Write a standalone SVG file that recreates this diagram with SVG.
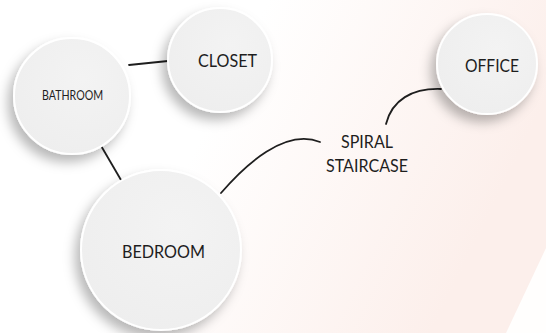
<svg xmlns="http://www.w3.org/2000/svg" width="546" height="333" viewBox="0 0 546 333">
<defs>
<linearGradient id="bg" x1="0" y1="0" x2="1" y2="0.3">
<stop offset="0" stop-color="#ffffff"/>
<stop offset="0.45" stop-color="#ffffff"/>
<stop offset="1" stop-color="#fcefeb"/>
</linearGradient>
<radialGradient id="disc" cx="0.6" cy="0.35" r="0.7">
<stop offset="0" stop-color="#f3f3f3"/>
<stop offset="1" stop-color="#eeeeee"/>
</radialGradient>
<filter id="sh" x="-40%" y="-40%" width="180%" height="180%">
<feDropShadow dx="-5" dy="7" stdDeviation="6" flood-color="#000" flood-opacity="0.28"/>
</filter>
</defs>
<style>
.node circle{fill:url(#disc);stroke:#ffffff;stroke-width:2;filter:url(#sh)}
.lbl{font-family:Lato,"Open Sans","Liberation Sans",sans-serif;fill:#1e1e1e;text-anchor:middle}
.conn path{fill:none;stroke:#1e1e1e;stroke-width:1.8;stroke-linecap:round}
</style>
<rect width="546" height="333" fill="url(#bg)"/>
<polygon points="546,248 546,333 506,333" fill="#ffffff" opacity="0.9"/>
<g class="conn" id="connectors">
<path d="M129,65 L168,61"/>
<path d="M100,144 L121,180"/>
<path d="M221,193 C245,165 285,128 320,142"/>
<path d="M386,124 C392,100 412,88 441,89"/>
</g>
<g class="node" id="bathroom">
<circle cx="72" cy="96" r="58"/>
<text class="lbl" x="72.5" y="100" font-size="12.5" textLength="61" lengthAdjust="spacingAndGlyphs">BATHROOM</text>
</g>
<g class="node" id="closet">
<circle cx="220" cy="60" r="52"/>
<text class="lbl" x="227.5" y="67" font-size="16.5" textLength="59" lengthAdjust="spacingAndGlyphs">CLOSET</text>
</g>
<g class="node" id="office">
<circle cx="487" cy="64" r="50"/>
<text class="lbl" x="492" y="72" font-size="16.5" textLength="54" lengthAdjust="spacingAndGlyphs">OFFICE</text>
</g>
<g class="node" id="bedroom">
<circle cx="161" cy="250" r="80"/>
<text class="lbl" x="163.5" y="258" font-size="18" textLength="83" lengthAdjust="spacingAndGlyphs">BEDROOM</text>
</g>
<g id="spiral-staircase">
<text class="lbl" x="367" y="148" font-size="18" textLength="52" lengthAdjust="spacingAndGlyphs">SPIRAL</text>
<text class="lbl" x="367" y="172" font-size="18" textLength="82" lengthAdjust="spacingAndGlyphs">STAIRCASE</text>
</g>
</svg>
